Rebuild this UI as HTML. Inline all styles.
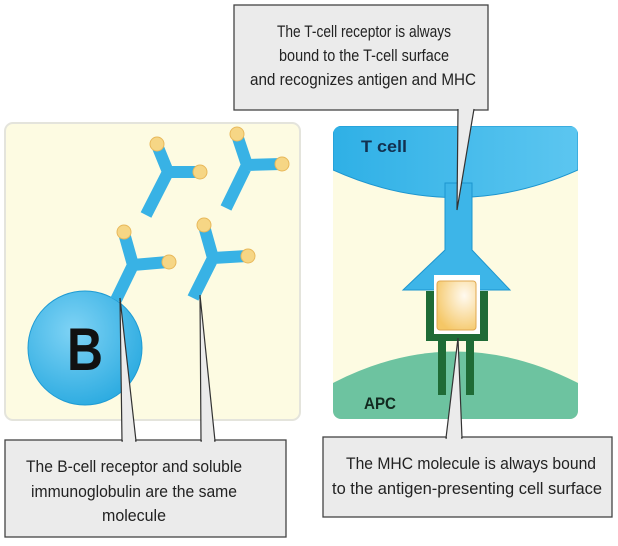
<!DOCTYPE html>
<html><head><meta charset="utf-8"><style>
html,body{margin:0;padding:0;background:#fff;}
svg{display:block;}
text{font-family:"Liberation Sans",sans-serif;}
</style></head><body>
<svg width="618" height="546" viewBox="0 0 618 546" xmlns="http://www.w3.org/2000/svg">
<defs>
<radialGradient id="bg" cx="0.4" cy="0.35" r="0.7"><stop offset="0" stop-color="#7fd3f5"/><stop offset="1" stop-color="#2aaae0"/></radialGradient>
<radialGradient id="pg" cx="0.7" cy="0.3" r="0.8"><stop offset="0" stop-color="#fffaf0"/><stop offset="1" stop-color="#f5c766"/></radialGradient>
<linearGradient id="tg" x1="0" y1="0" x2="1" y2="0"><stop offset="0" stop-color="#2fb0e6"/><stop offset="1" stop-color="#5cc6f0"/></linearGradient>
</defs>
<rect x="5" y="123" width="295" height="297" rx="8" fill="#fdfbe2" stroke="#e4e4dc" stroke-width="2"/>
<rect x="333" y="126" width="245" height="293" rx="8" fill="#fdfbe2"/>
<clipPath id="rc"><rect x="333" y="126" width="245" height="293" rx="8"/></clipPath>
<g clip-path="url(#rc)">
<path d="M333 126 H578 V170 Q455 225 333 170 Z" fill="url(#tg)" stroke="#1c95cf" stroke-width="1"/>
<path d="M333 383 Q455 320 578 383 V419 H333 Z" fill="#6dc3a0"/>
</g>
<text x="361" y="152" font-size="17" font-weight="bold" fill="#123050" textLength="46" lengthAdjust="spacingAndGlyphs">T cell</text>
<text x="364" y="409" font-size="17" font-weight="bold" fill="#122a20" textLength="32" lengthAdjust="spacingAndGlyphs">APC</text>
<path d="M445 183 H472 V250 L510 290 H403 L445 250 Z" fill="#3db5e8" stroke="#1c95cf" stroke-width="1"/>
<path d="M426 291 H488 V341 H474 V395 H466 V341 H446 V395 H438 V341 H426 Z" fill="#1f6b36"/>
<rect x="434" y="275" width="46" height="59" fill="#fff"/>
<rect x="437" y="281" width="39" height="49" rx="3" fill="url(#pg)" stroke="#e0a850"/>
<circle cx="85" cy="348" r="57" fill="url(#bg)" stroke="#1e9bd4"/>
<text x="85" y="370" font-size="60" font-weight="bold" text-anchor="middle" fill="#111" textLength="36" lengthAdjust="spacingAndGlyphs">B</text>
<g stroke="#38b2e5" stroke-width="12" stroke-linecap="butt" fill="none">
<path d="M146 215 L168 172 L157 145 M168 172 L199 172"/>
<path d="M226 208 L247 165 L237 135 M247 165 L281 164"/>
<path d="M116 300 L133 265 L124 233 M133 265 L168 262"/>
<path d="M193 298 L213 258 L204 226 M213 258 L247 256"/>
</g>
<g fill="#f6d685" stroke="#e8b85a">
<circle cx="157" cy="144" r="7"/><circle cx="200" cy="172" r="7"/>
<circle cx="237" cy="134" r="7"/><circle cx="282" cy="164" r="7"/>
<circle cx="124" cy="232" r="7"/><circle cx="169" cy="262" r="7"/>
<circle cx="204" cy="225" r="7"/><circle cx="248" cy="256" r="7"/>
</g>
<g fill="#ebebeb" stroke="#444" stroke-width="1.3">
<rect x="234" y="5" width="254" height="105"/>
<rect x="5" y="440" width="281" height="97"/>
<rect x="323" y="437" width="289" height="80"/>
</g>
<g fill="#ebebeb" stroke="#333" stroke-width="1.2">
<path d="M458 109 L457 210 L474 109"/>
<path d="M120 298 L122 441 L136 441 Z"/>
<path d="M200 295 L201 441 L215 441 Z"/>
<path d="M458 338 L446 438 L462 438 Z"/>
</g>
<g fill="#ebebeb">
<rect x="459" y="106" width="14" height="4"/>
<rect x="123" y="439" width="12" height="3"/>
<rect x="202" y="439" width="12" height="3"/>
<rect x="447" y="436" width="14" height="3"/>
</g>
<g font-size="17" fill="#222" text-anchor="middle" lengthAdjust="spacingAndGlyphs">
<text x="364" y="37" textLength="174" lengthAdjust="spacingAndGlyphs">The T-cell receptor is always</text>
<text x="364" y="61" textLength="170" lengthAdjust="spacingAndGlyphs">bound to the T-cell surface</text>
<text x="363" y="85" textLength="226" lengthAdjust="spacingAndGlyphs">and recognizes antigen and MHC</text>
<text x="134" y="472" textLength="216" lengthAdjust="spacingAndGlyphs">The B-cell receptor and soluble</text>
<text x="134" y="497" textLength="206" lengthAdjust="spacingAndGlyphs">immunoglobulin are the same</text>
<text x="134" y="521" textLength="64" lengthAdjust="spacingAndGlyphs">molecule</text>
<text x="471" y="469" textLength="250" lengthAdjust="spacingAndGlyphs">The MHC molecule is always bound</text>
<text x="467" y="494" textLength="270" lengthAdjust="spacingAndGlyphs">to the antigen-presenting cell surface</text>
</g>
</svg>
</body></html>
